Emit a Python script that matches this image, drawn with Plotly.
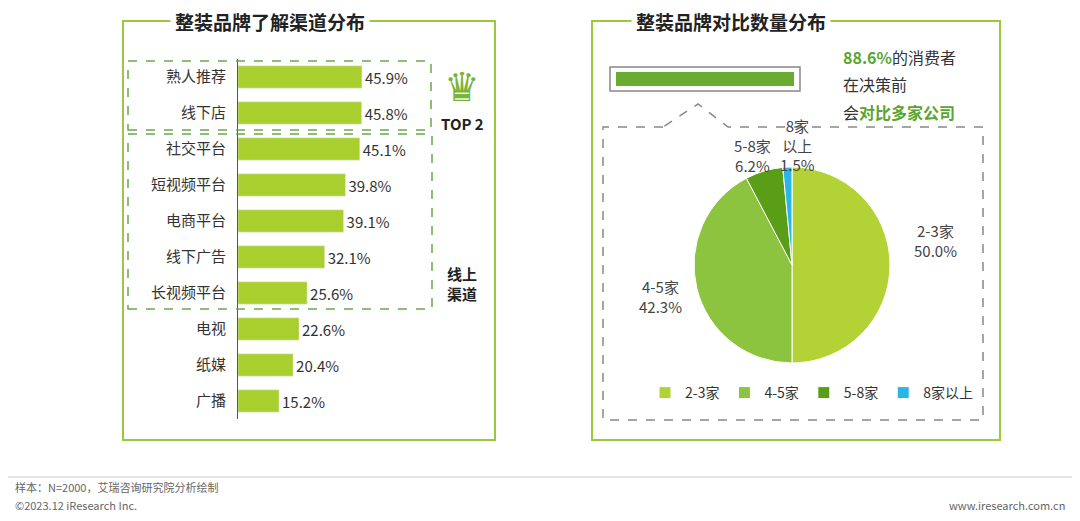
import plotly.graph_objects as go

cats = ["熟人推荐","线下店","社交平台","短视频平台","电商平台","线下广告","长视频平台","电视","纸媒","广播"]
vals = [45.9,45.8,45.1,39.8,39.1,32.1,25.6,22.6,20.4,15.2]
pie_labels = ["2-3家","4-5家","5-8家","8家以上"]
pie_vals = [50.0,42.3,6.2,1.5]
pie_colors = ["#b3d235","#8cc43f","#5a9e17","#29b5e6"]
W, H = 1064, 505
def px(x): return (x - 8) / W
def py(y): return 1 - (y - 8) / H

fig = go.Figure()
fig.add_trace(go.Bar(x=vals, y=cats, orientation="h", marker_color="#a8cf2e", width=0.62,
                     text=[f"{v:.1f}%" for v in vals], textposition="outside",
                     textfont=dict(size=15, color="#333"), cliponaxis=False, showlegend=False))
fig.add_trace(go.Pie(values=pie_vals, labels=pie_labels, marker=dict(colors=pie_colors, line=dict(color="white", width=1)),
                     sort=False, direction="clockwise", rotation=0, textinfo="none", hoverinfo="label+percent",
                     domain=dict(x=[px(694), px(890)], y=[py(363), py(167)])))

fig.update_layout(
    width=W, height=H, margin=dict(l=0, r=0, t=0, b=0), plot_bgcolor="white", paper_bgcolor="white",
    font=dict(family="Noto Sans CJK SC, sans-serif", color="#333"),
    xaxis=dict(domain=[px(238), px(480)], range=[0, (480-238)/2.7], visible=False),
    yaxis=dict(domain=[py(419), py(59)], autorange="reversed", showline=True, linecolor="#555",
               ticks="", tickfont=dict(size=15, color="#333"), ticklabelstandoff=8),
    bargap=0.4,
    legend=dict(orientation="h", x=px(645), y=py(393), yanchor="middle", xanchor="left",
                font=dict(size=14, color="#333"), itemwidth=30, tracegroupgap=0, traceorder="normal"),
)

green = "#9cc83c"
shapes = [
    dict(type="rect", x0=px(123), x1=px(495), y0=py(440), y1=py(21), line=dict(color=green, width=2)),
    dict(type="rect", x0=px(592), x1=px(1000), y0=py(440), y1=py(21), line=dict(color=green, width=2)),
    dict(type="rect", x0=px(128), x1=px(431), y0=py(130), y1=py(61), line=dict(color="#6aa84f", width=1.5, dash="dash")),
    dict(type="rect", x0=px(128), x1=px(432), y0=py(309), y1=py(134), line=dict(color="#6aa84f", width=1.5, dash="dash")),
    dict(type="rect", x0=px(610), x1=px(800), y0=py(91), y1=py(67), line=dict(color="#888", width=1.5), fillcolor="white"),
    dict(type="rect", x0=px(616), x1=px(794), y0=py(86), y1=py(72), line=dict(width=0), fillcolor="#6aac2f"),
    dict(type="path", path=f"M {px(663)} {py(127)} L {px(603)} {py(127)} L {px(603)} {py(420)} L {px(983)} {py(420)} L {px(983)} {py(127)} L {px(728)} {py(127)} L {px(698)} {py(104)} L {px(663)} {py(127)}",
         line=dict(color="#888", width=1.5, dash="dash")),
    dict(type="line", x0=0, x1=1, y0=py(477), y1=py(477), line=dict(color="#ccc", width=1)),
]
for s in shapes:
    s.update(xref="paper", yref="paper")
fig.update_layout(shapes=shapes)

def ann(x, y, t, size=15, color="#333", bold=False, xa="center", bg=None, pad=4):
    fig.add_annotation(x=px(x), y=py(y), xref="paper", yref="paper", text=f"<b>{t}</b>" if bold else t,
                       showarrow=False, font=dict(size=size, color=color), xanchor=xa, yanchor="middle",
                       bgcolor=bg, borderpad=pad)

ann(270, 21, "整装品牌了解渠道分布", 19, "#222", True, bg="white")
ann(731, 21, "整装品牌对比数量分布", 19, "#222", True, bg="white")
ann(462, 84, "♛", 40, "#7bb43a")
ann(462, 124, "TOP 2", 15, "#222", True)
ann(462, 283, "线上<br>渠道", 15, "#222", True)
ann(838, 57, "<b><span style='color:#5aa62d'>88.6%</span></b>的消费者", 16, xa="left")
ann(838, 84, "在决策前", 16, xa="left")
ann(838, 112, "会<b><span style='color:#5aa62d'>对比多家公司</span></b>", 16, xa="left")
ann(935, 241, "2-3家<br>50.0%", 15, "#444")
ann(660, 296, "4-5家<br>42.3%", 15, "#444")
ann(752, 155, "5-8家<br>6.2%", 15, "#444")
ann(797, 145, "8家<br>以上<br>1.5%", 15, "#444")
ann(14, 487, "样本：N=2000，艾瑞咨询研究院分析绘制", 11, "#666", xa="left", pad=0)
ann(14, 505, "©2023.12 iResearch Inc.", 11, "#666", xa="left", pad=0)
ann(1066, 505, "www.iresearch.com.cn", 11, "#666", xa="right", pad=0)

fig.write_html("out.html")
